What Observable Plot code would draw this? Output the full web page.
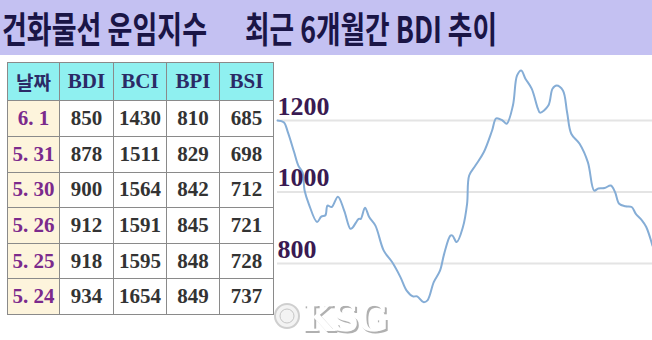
<!DOCTYPE html>
<html><head><meta charset="utf-8">
<script src="https://cdn.jsdelivr.net/npm/d3@7"></script>
<script src="https://cdn.jsdelivr.net/npm/@observablehq/plot@0.6"></script>
<style>
html,body{margin:0;padding:0;background:#fff;}
#wrap{position:relative;width:652px;height:340px;overflow:hidden;background:#fff;}
#titlebar{position:absolute;left:0;top:0;width:652px;height:55px;background:#c4c1f2;}
#tbl{position:absolute;left:7px;top:62px;border-collapse:collapse;table-layout:fixed;width:266px;height:253px;}
#tbl td,#tbl th{border:1.5px solid #8a8a8a;padding:0;text-align:center;font-family:"Liberation Serif",serif;font-weight:700;font-size:21px;color:#333;overflow:hidden;white-space:nowrap;}
#tbl th{background:#8ff0f0;color:#2b2a66;}
#tbl th.d{font-family:"Noto Sans CJK KR",sans-serif;font-size:19px;}
#tbl td.d{background:#fdf4dc;color:#7b2a8c;}
#chart{position:absolute;left:272px;top:55px;}
#wm{position:absolute;left:271px;top:290px;width:132px;height:50px;}
</style></head>
<body>
<div id="wrap">
  <svg id="titlebar" width="652" height="55">
    <rect width="652" height="55" fill="#c4c1f2"/>
    <g transform="translate(2,43) scale(1,1.34)">
      <text x="0" y="0" textLength="205" lengthAdjust="spacingAndGlyphs" font-family="Noto Sans CJK KR" font-weight="700" font-size="27" fill="#1a1546">건화물선 운임지수</text>
    </g>
    <g transform="translate(245,43) scale(1,1.34)">
      <text x="0" y="0" textLength="252" lengthAdjust="spacingAndGlyphs" font-family="Noto Sans CJK KR" font-weight="700" font-size="27" fill="#1a1546">최근 6개월간 BDI 추이</text>
    </g>
  </svg>
  <table id="tbl"></table>
  <div id="chart"></div>
  <svg id="wm" width="132" height="50">
    <defs><filter id="sh" x="-10%" y="-10%" width="130%" height="140%"><feDropShadow dx="2" dy="2" stdDeviation="0.6" flood-color="#b0b0b0"/></filter></defs>
    <circle cx="16" cy="26" r="12" fill="#f3f3f3" stroke="#cfcfcf" stroke-width="2"/>
    <circle cx="16" cy="26" r="7" fill="none" stroke="#c6c6c6" stroke-width="1"/>
    <text x="31" y="41" font-family="DejaVu Serif" font-weight="700" font-size="37" fill="#fff" letter-spacing="-2" filter="url(#sh)">KSG</text>
  </svg>
</div>
<script>
// table data
const dates = ["6. 1", "5. 31", "5. 30", "5. 26", "5. 25", "5. 24"];
const bdiT = [850, 878, 900, 912, 918, 934];
const bciT = [1430, 1511, 1564, 1591, 1595, 1654];
const bpiT = [810, 829, 842, 845, 848, 849];
const bsiT = [685, 698, 712, 721, 728, 737];
const headers = ["날짜", "BDI", "BCI", "BPI", "BSI"];

// 6-month BDI trend (trading-day index, value)
const days = [0,3,5,8,10,12,13,15,19,21,23,24,26,29,32,35,36,39,40,42,44,47,51,55,59,62,65,67,70,72,75,78,80,83,84,86,89,91,92,95,99,103,105,108,110,113,115,117,119,122,125,126,130,132,134,137,139,141,145,149,152,154,157,160,162,164,167,170,172,175,177,180];
const bdi = [1200,1195,1167,1111,1074,1055,1004,967,916,931,935,962,958,987,948,897,900,925,925,956,930,906,836,804,762,724,708,708,692,697,748,780,827,878,878,860,902,967,1046,1074,1111,1172,1206,1200,1191,1242,1326,1340,1317,1289,1233,1222,1242,1289,1298,1284,1223,1163,1135,1083,1004,1010,1011,1018,1000,967,960,958,939,920,902,850];
const yTicks = [800, 1000, 1200];

// table
const tbl = document.getElementById("tbl");
const widths = [52, 54, 53, 53, 54];
let hr = "<colgroup>" + widths.map(w=>`<col style="width:${w}px">`).join("") + "</colgroup>";
hr += "<tr>" + headers.map((h,i)=>`<th class="${i===0?'d':''}">${h}</th>`).join("") + "</tr>";
dates.forEach((d,i)=>{
  hr += `<tr><td class="d">${d}</td><td>${bdiT[i]}</td><td>${bciT[i]}</td><td>${bpiT[i]}</td><td>${bsiT[i]}</td></tr>`;
});
tbl.innerHTML = hr;

// chart
const data = days.map((d,i)=>({day:d, v:bdi[i]}));
const chart = Plot.plot({
  width: 380,
  height: 285,
  marginLeft: 5, marginRight: 0, marginTop: 0, marginBottom: 0,
  x: {domain: [0, 180], axis: null},
  y: {domain: [800, 1200], range: [208, 65], axis: null},
  style: {background: "transparent", overflow: "visible"},
  marks: [
    Plot.ruleY(yTicks, {stroke: "#e4e4e4", strokeWidth: 2}),
    Plot.line(data, {x: "day", y: "v", curve: "catmull-rom", stroke: "#85add6", strokeWidth: 2}),
    Plot.text(yTicks, {y: d=>d, text: d=>String(d), frameAnchor: "left", textAnchor: "start", lineAnchor: "bottom", dy: -6, fontSize: 26, fontWeight: "bold", fontFamily: "Liberation Serif", fill: "#3a1a52"})
  ]
});
document.getElementById("chart").appendChild(chart);
</script>
</body></html>
